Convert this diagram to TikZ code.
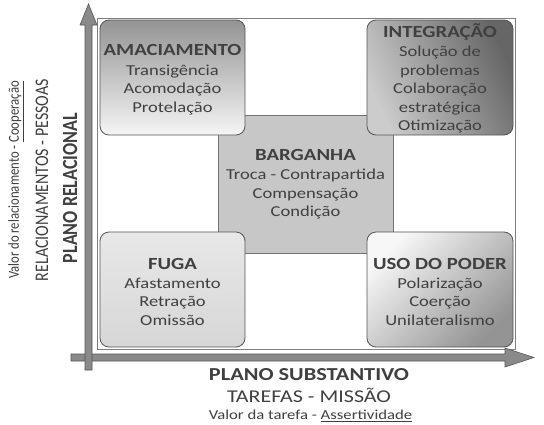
\documentclass[tikz,border=0pt]{standalone}
\usepackage{fontspec}
\usepackage{graphicx}
\setmainfont{Carlito}[FakeStretch=1.22]
\newfontfamily\plainfont{Carlito}
\definecolor{txt}{HTML}{404040}
\definecolor{edge}{HTML}{555555}
\definecolor{axfill}{HTML}{8A8A8A}
\newcommand{\tl}[1]{{\fontsize{17}{20}\selectfont\bfseries #1}}
\newcommand{\ctl}[1]{{\fontsize{17}{20}\selectfont\bfseries\rule{0pt}{15.5pt}#1}}
\begin{document}
\begin{tikzpicture}[x=1pt,y=-1pt,
  box/.style={draw=edge, line width=0.8pt, rounded corners=9pt, minimum width=145pt, minimum height=115pt,
    align=center, text=txt, inner sep=0pt, font=\fontsize{15.2}{18.4}\selectfont},
  axis/.style={fill=axfill, draw=edge, line width=0.6pt},
  lab/.style={text=txt, inner sep=0pt, align=center}]
\useasboundingbox[fill=white] (0,0) rectangle (544,424);
% frame
\draw[draw=black!50, line width=0.8pt] (97,18) rectangle (515,349);
% center box
\node[box, draw=black!55, rounded corners=0pt, fill=black!22, minimum width=175pt, minimum height=138pt] (barg) at (305.5,184)
  {\tl{BARGANHA}\\[1pt] Troca - Contrapartida\\ Compensação\\ Condição};
% corner boxes
\node[box, top color=black!42, bottom color=black!4] (amac) at (172.5,77.5)
  {\ctl{AMACIAMENTO}\\[1pt] Transigência\\ Acomodação\\ Protelação};
\node[box, minimum width=146pt, top color=black!60, bottom color=black!20, shading angle=-65] (integ) at (440,77.5)
  {\ctl{INTEGRAÇÃO}\\[1pt] Solução de\\ problemas\\ Colaboração\\ estratégica\\ Otimização};
\node[box, top color=black!9, bottom color=black!16] (fuga) at (172.5,289.5)
  {\ctl{FUGA}\\[1pt] Afastamento\\ Retração\\ Omissão};
\node[box, minimum width=146pt, top color=black!3, bottom color=black!42, shading angle=45] (uso) at (440,289.5)
  {\ctl{USO DO PODER}\\[1pt] Polarização\\ Coerção\\ Unilateralismo};
% axes
\draw[axis] (71,354) -- (505,354) -- (505,348) -- (534,357.5) -- (505,367) -- (505,361) -- (71,361) -- cycle;
\draw[axis] (85,370) -- (85,25) -- (80,25) -- (88.5,4) -- (97,25) -- (92,25) -- (92,370) -- cycle;
% axis labels
\node[lab, rotate=90, font=\plainfont\fontsize{18}{21}\selectfont\bfseries] (prel) at (70,188)
  {\scalebox{1}[1.2]{PLANO RELACIONAL}};
\node[lab, rotate=90, font=\plainfont\fontsize{16}{19}\selectfont] (rpes) at (42,180)
  {\scalebox{1}[1.2]{RELACIONAMENTOS - PESSOAS}};
\node[lab, rotate=90, font=\plainfont\fontsize{12.7}{15}\selectfont] (vrel) at (16,180)
  {\scalebox{1}[1.2]{Valor do relacionamento - \underline{Cooperação}}};
\node[lab, font=\fontsize{18.3}{22}\selectfont\bfseries] (psub) at (309,375) {PLANO SUBSTANTIVO};
\node[lab, font=\fontsize{18}{22}\selectfont] (tmis) at (309,395) {TAREFAS - MISSÃO};
\node[lab, font=\fontsize{13.7}{16}\selectfont] (vtar) at (310.5,416) {Valor da tarefa - \underline{Assertividade}};
\end{tikzpicture}
\end{document}
